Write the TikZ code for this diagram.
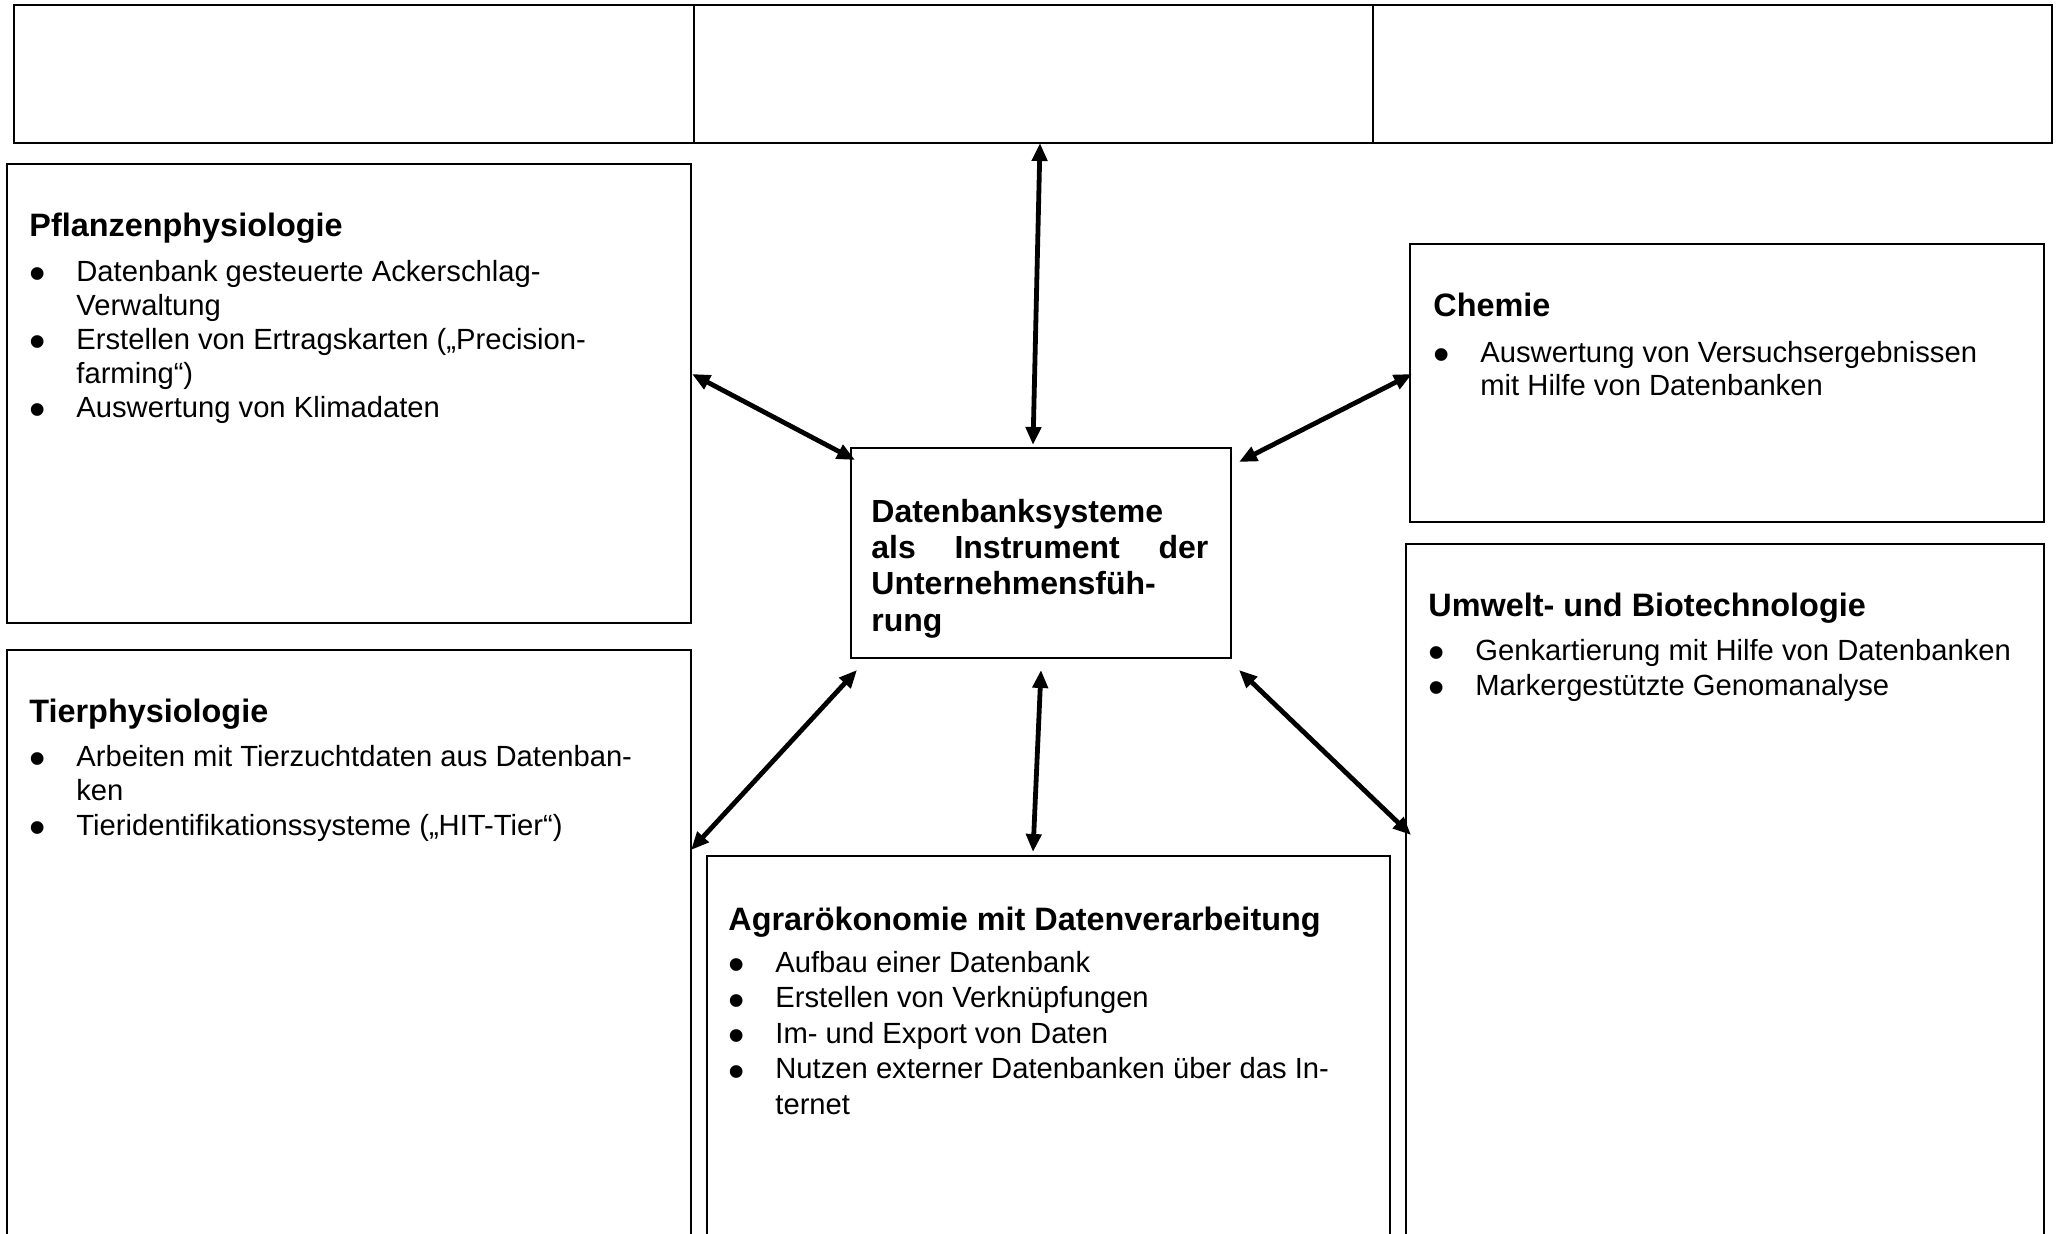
\documentclass[tikz,border=0pt]{standalone}
\usepackage{fontspec}
\setmainfont{Liberation Sans}
\usepackage{graphicx}
\usetikzlibrary{arrows.meta,calc}

% list helpers: bullet column and hanging continuation lines
\newcommand\bulmark{\smash{\raisebox{-4.2pt}{\scalebox{1.6}{•}}}}
\newcommand\bitem[1]{\makebox[23.5pt][l]{\bulmark}#1}
\newcommand\bcont[1]{\hspace*{23.5pt}#1}
\newcommand\topstrut{\rule{0pt}{12pt}}

\begin{document}
\begin{tikzpicture}[x=0.5pt,y=-0.5pt,
  box/.style={draw, line width=0.75pt, inner sep=0pt, outer sep=0pt, anchor=north west},
  strip/.style={box, line width=1.1pt, minimum height=69pt},
  headtext/.style={font=\fontsize{16.2pt}{18pt}\selectfont\bfseries, inner sep=0pt, anchor=base west},
  bodytext/.style={font=\fontsize{14.6pt}{#1}\selectfont, align=left, inner sep=0pt, anchor=north west},
  centertext/.style={font=\fontsize{16pt}{18.15pt}\selectfont\bfseries, align=left, inner sep=0pt, anchor=north west},
  link/.style={line width=2.4pt, {Triangle[length=9pt,width=7.5pt]}-{Triangle[length=9pt,width=7.5pt]}}
]
\clip (0,0) rectangle (2056,1234);
\fill[white] (0,0) rectangle (2056,1234);

% empty header row
\node[strip, minimum width=340pt]   (t1) at (14,5) {};
\node[strip, minimum width=339.5pt] (t2) at (694,5) {};
\node[strip, minimum width=339.5pt] (t3) at (1373,5) {};

% subject boxes
\node[box, minimum width=342pt, minimum height=229.5pt] (pfl)  at (7,164) {};
\node[box, minimum width=342pt, minimum height=330pt]   (tier) at (7,650) {};
\node[box, minimum width=190pt, minimum height=105pt]   (ctr)  at (851,448) {};
\node[box, minimum width=317pt, minimum height=139pt]   (chem) at (1410,244) {};
\node[box, minimum width=319pt, minimum height=380pt]   (umw)  at (1406,544) {};
\node[box, minimum width=341.5pt, minimum height=230pt] (agr)  at (707,856) {};

% Pflanzenphysiologie
\node[headtext] (pflH) at ($(pfl.north west)+(22,73)$) {Pflanzenphysiologie};
\node[bodytext=17pt] (pflB) at ($(pfl.north west)+(22,93)$) {%
\topstrut\bitem{Datenbank gesteuerte Ackerschlag-}\\
\bcont{Verwaltung}\\
\bitem{Erstellen von Ertragskarten („Precision-}\\
\bcont{farming“)}\\
\bitem{Auswertung von Klimadaten}};

% Tierphysiologie
\node[headtext] (tierH) at ($(tier.north west)+(22,73)$) {Tierphysiologie};
\node[bodytext=17.25pt] (tierB) at ($(tier.north west)+(22,92)$) {%
\topstrut\bitem{Arbeiten mit Tierzuchtdaten aus Datenban-}\\
\bcont{ken}\\
\bitem{Tieridentifikationssysteme („HIT-Tier“)}};

% Chemie
\node[headtext] (chemH) at ($(chem.north west)+(23,73)$) {Chemie};
\node[bodytext=16.5pt] (chemB) at ($(chem.north west)+(23,94)$) {%
\topstrut\bitem{Auswertung von Versuchsergebnissen}\\
\bcont{mit Hilfe von Datenbanken}};

% Umwelt- und Biotechnologie
\node[headtext] (umwH) at ($(umw.north west)+(22,73)$) {Umwelt- und Biotechnologie};
\node[bodytext=17.5pt] (umwB) at ($(umw.north west)+(22,92)$) {%
\topstrut\bitem{Genkartierung mit Hilfe von Datenbanken}\\
\bitem{Markergestützte Genomanalyse}};

% Agrarökonomie
\node[headtext] (agrH) at ($(agr.north west)+(21,74)$) {Agrarökonomie mit Datenverarbeitung};
\node[bodytext=17.75pt] (agrB) at ($(agr.north west)+(21,92)$) {%
\topstrut\bitem{Aufbau einer Datenbank}\\
\bitem{Erstellen von Verknüpfungen}\\
\bitem{Im- und Export von Daten}\\
\bitem{Nutzen externer Datenbanken über das In-}\\
\bcont{ternet}};

% central topic
\node[centertext] (ctrT) at ($(ctr.north west)+(20,50)$) {%
\topstrut Datenbanksysteme\\
\makebox[168.5pt]{als\hfill Instrument\hfill der}\\
Unternehmensfüh-\\
rung};

% connector end points
\coordinate (aTop)  at ($(t2.south)+(6.5,0)$);
\coordinate (cTop)  at ($(ctr.north)+(-8,-3)$);
\coordinate (aPfl)  at ($(pfl.north east)+(1,210)$);
\coordinate (cNW)   at ($(ctr.north west)+(4,12)$);
\coordinate (aChem) at ($(chem.north west)+(2,130)$);
\coordinate (cNE)   at ($(ctr.north east)+(8,14)$);
\coordinate (cSW)   at ($(ctr.south west)+(6,12)$);
\coordinate (aTier) at ($(tier.north east)+(0,200)$);
\coordinate (cS)    at ($(ctr.south)+(0,12)$);
\coordinate (aAgr)  at ($(agr.north)+(-15.5,-4)$);
\coordinate (cSE)   at ($(ctr.south east)+(8,12)$);
\coordinate (aUmw)  at ($(umw.north west)+(5,291)$);

% two-way links to the central topic
\draw[link] (aTop) -- (cTop);
\draw[link] (aPfl) -- (cNW);
\draw[link] (aChem) -- (cNE);
\draw[link] (cSW) -- (aTier);
\draw[link] (cS) -- (aAgr);
\draw[link] (cSE) -- (aUmw);
\end{tikzpicture}
\end{document}
